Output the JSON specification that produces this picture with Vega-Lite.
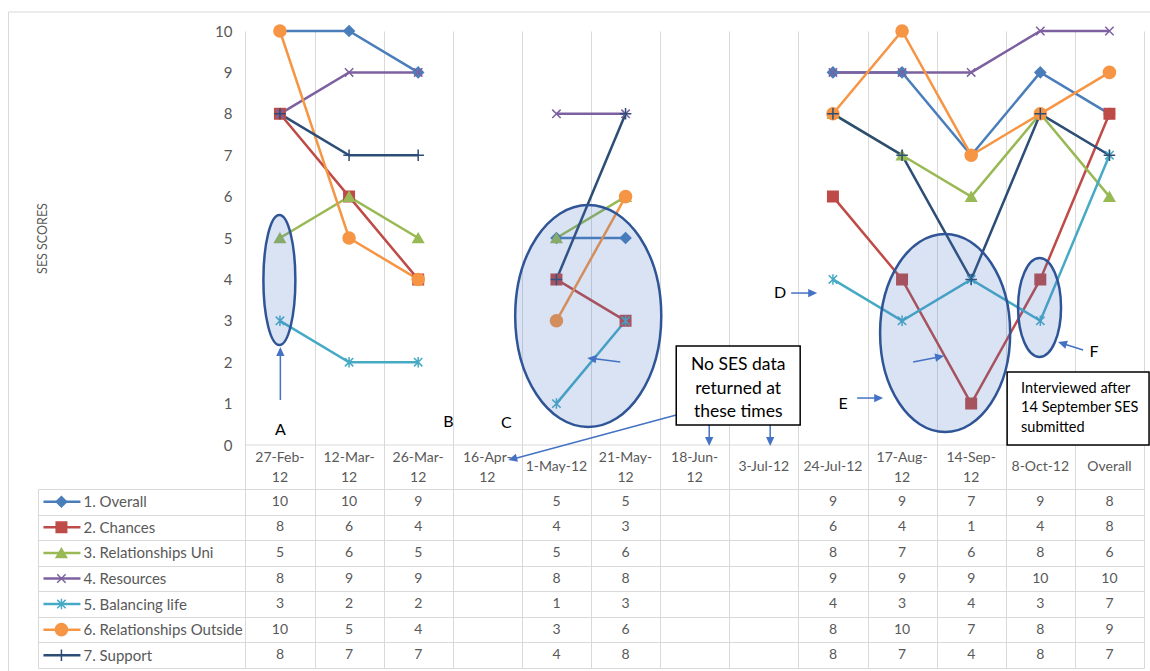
{
  "$schema": "https://vega.github.io/schema/vega-lite/v6.json",
  "width": 1106,
  "height": 637,
  "autosize": {"type": "none"},
  "padding": {"left": 38, "top": 31, "right": 6, "bottom": 3},
  "background": "white",
  "config": {"font": "Lato", "view": {"stroke": null}},
  "data": {"values": [{"k": 0}]},
  "datasets": {
    "scores": [
      {"s": "1. Overall", "i": 0, "seg": 1, "v": 10}, {"s": "1. Overall", "i": 1, "seg": 1, "v": 10}, {"s": "1. Overall", "i": 2, "seg": 1, "v": 9},
      {"s": "1. Overall", "i": 4, "seg": 2, "v": 5}, {"s": "1. Overall", "i": 5, "seg": 2, "v": 5},
      {"s": "1. Overall", "i": 8, "seg": 3, "v": 9}, {"s": "1. Overall", "i": 9, "seg": 3, "v": 9}, {"s": "1. Overall", "i": 10, "seg": 3, "v": 7}, {"s": "1. Overall", "i": 11, "seg": 3, "v": 9}, {"s": "1. Overall", "i": 12, "seg": 3, "v": 8},
      {"s": "2. Chances", "i": 0, "seg": 1, "v": 8}, {"s": "2. Chances", "i": 1, "seg": 1, "v": 6}, {"s": "2. Chances", "i": 2, "seg": 1, "v": 4},
      {"s": "2. Chances", "i": 4, "seg": 2, "v": 4}, {"s": "2. Chances", "i": 5, "seg": 2, "v": 3},
      {"s": "2. Chances", "i": 8, "seg": 3, "v": 6}, {"s": "2. Chances", "i": 9, "seg": 3, "v": 4}, {"s": "2. Chances", "i": 10, "seg": 3, "v": 1}, {"s": "2. Chances", "i": 11, "seg": 3, "v": 4}, {"s": "2. Chances", "i": 12, "seg": 3, "v": 8},
      {"s": "3. Relationships Uni", "i": 0, "seg": 1, "v": 5}, {"s": "3. Relationships Uni", "i": 1, "seg": 1, "v": 6}, {"s": "3. Relationships Uni", "i": 2, "seg": 1, "v": 5},
      {"s": "3. Relationships Uni", "i": 4, "seg": 2, "v": 5}, {"s": "3. Relationships Uni", "i": 5, "seg": 2, "v": 6},
      {"s": "3. Relationships Uni", "i": 8, "seg": 3, "v": 8}, {"s": "3. Relationships Uni", "i": 9, "seg": 3, "v": 7}, {"s": "3. Relationships Uni", "i": 10, "seg": 3, "v": 6}, {"s": "3. Relationships Uni", "i": 11, "seg": 3, "v": 8}, {"s": "3. Relationships Uni", "i": 12, "seg": 3, "v": 6},
      {"s": "4. Resources", "i": 0, "seg": 1, "v": 8}, {"s": "4. Resources", "i": 1, "seg": 1, "v": 9}, {"s": "4. Resources", "i": 2, "seg": 1, "v": 9},
      {"s": "4. Resources", "i": 4, "seg": 2, "v": 8}, {"s": "4. Resources", "i": 5, "seg": 2, "v": 8},
      {"s": "4. Resources", "i": 8, "seg": 3, "v": 9}, {"s": "4. Resources", "i": 9, "seg": 3, "v": 9}, {"s": "4. Resources", "i": 10, "seg": 3, "v": 9}, {"s": "4. Resources", "i": 11, "seg": 3, "v": 10}, {"s": "4. Resources", "i": 12, "seg": 3, "v": 10},
      {"s": "5. Balancing life", "i": 0, "seg": 1, "v": 3}, {"s": "5. Balancing life", "i": 1, "seg": 1, "v": 2}, {"s": "5. Balancing life", "i": 2, "seg": 1, "v": 2},
      {"s": "5. Balancing life", "i": 4, "seg": 2, "v": 1}, {"s": "5. Balancing life", "i": 5, "seg": 2, "v": 3},
      {"s": "5. Balancing life", "i": 8, "seg": 3, "v": 4}, {"s": "5. Balancing life", "i": 9, "seg": 3, "v": 3}, {"s": "5. Balancing life", "i": 10, "seg": 3, "v": 4}, {"s": "5. Balancing life", "i": 11, "seg": 3, "v": 3}, {"s": "5. Balancing life", "i": 12, "seg": 3, "v": 7},
      {"s": "6. Relationships Outside", "i": 0, "seg": 1, "v": 10}, {"s": "6. Relationships Outside", "i": 1, "seg": 1, "v": 5}, {"s": "6. Relationships Outside", "i": 2, "seg": 1, "v": 4},
      {"s": "6. Relationships Outside", "i": 4, "seg": 2, "v": 3}, {"s": "6. Relationships Outside", "i": 5, "seg": 2, "v": 6},
      {"s": "6. Relationships Outside", "i": 8, "seg": 3, "v": 8}, {"s": "6. Relationships Outside", "i": 9, "seg": 3, "v": 10}, {"s": "6. Relationships Outside", "i": 10, "seg": 3, "v": 7}, {"s": "6. Relationships Outside", "i": 11, "seg": 3, "v": 8}, {"s": "6. Relationships Outside", "i": 12, "seg": 3, "v": 9},
      {"s": "7. Support", "i": 0, "seg": 1, "v": 8}, {"s": "7. Support", "i": 1, "seg": 1, "v": 7}, {"s": "7. Support", "i": 2, "seg": 1, "v": 7},
      {"s": "7. Support", "i": 4, "seg": 2, "v": 4}, {"s": "7. Support", "i": 5, "seg": 2, "v": 8},
      {"s": "7. Support", "i": 8, "seg": 3, "v": 8}, {"s": "7. Support", "i": 9, "seg": 3, "v": 7}, {"s": "7. Support", "i": 10, "seg": 3, "v": 4}, {"s": "7. Support", "i": 11, "seg": 3, "v": 8}, {"s": "7. Support", "i": 12, "seg": 3, "v": 7}
    ],
    "dates2": [
      {"i": 0, "lab": "27-Feb-\n12"}, {"i": 1, "lab": "12-Mar-\n12"}, {"i": 2, "lab": "26-Mar-\n12"}, {"i": 3, "lab": "16-Apr-\n12"},
      {"i": 5, "lab": "21-May-\n12"}, {"i": 6, "lab": "18-Jun-\n12"},
      {"i": 9, "lab": "17-Aug-\n12"}, {"i": 10, "lab": "14-Sep-\n12"}
    ],
    "dates1": [
      {"i": 4, "lab": "1-May-12"}, {"i": 7, "lab": "3-Jul-12"}, {"i": 8, "lab": "24-Jul-12"}, {"i": 11, "lab": "8-Oct-12"}, {"i": 12, "lab": "Overall"}
    ],
    "series": [
      {"s": "1. Overall"}, {"s": "2. Chances"}, {"s": "3. Relationships Uni"}, {"s": "4. Resources"},
      {"s": "5. Balancing life"}, {"s": "6. Relationships Outside"}, {"s": "7. Support"}
    ]
  },
  "layer": [
    {
      "layer": [
        {
          "mark": {"type": "rect", "filled": false, "stroke": "#d9d9d9", "strokeWidth": 1},
          "encoding": {"x": {"datum": -3.927}, "x2": {"datum": 13.5}, "y": {"datum": 10.459}, "y2": {"datum": -6}}
        },
        {
          "mark": {"type": "rule", "stroke": "#d9d9d9", "strokeWidth": 1},
          "encoding": {"x": {"datum": -0.5}, "x2": {"datum": 12.5}, "y": {"datum": 0}}
        },
        {
          "data": {"name": "scores"},
          "mark": {"type": "line", "strokeWidth": 2.5},
          "encoding": {
            "x": {"field": "i", "type": "quantitative", "scale": {"domain": [-3.5, 12.5], "nice": false, "zero": false},
                  "axis": {"values": [-0.5, 0.5, 1.5, 2.5, 3.5, 4.5, 5.5, 6.5, 7.5, 8.5, 9.5, 10.5, 11.5, 12.5], "grid": true, "gridColor": "#d9d9d9", "gridWidth": 1, "labels": false, "ticks": false, "domain": false, "title": null}},
            "y": {"field": "v", "type": "quantitative", "scale": {"domain": [-5.386, 10], "nice": false, "zero": false},
                  "axis": {"values": [0, 1, 2, 3, 4, 5, 6, 7, 8, 9, 10], "format": "d", "offset": -207, "grid": false, "domain": false, "ticks": false, "tickSize": 0, "labelPadding": 13, "labelFontSize": 15, "labelColor": "#595959",
                           "title": "SES SCORES", "titleFontSize": 12.5, "titleFontWeight": "normal", "titleColor": "#595959", "titleX": -203, "titleY": 207, "titleAngle": -90, "titleAlign": "center", "titleBaseline": "middle"}},
            "color": {"field": "s", "type": "nominal", "legend": null,
                      "scale": {"domain": ["1. Overall", "2. Chances", "3. Relationships Uni", "4. Resources", "5. Balancing life", "6. Relationships Outside", "7. Support"],
                                "range": ["#4A7EBB", "#BE4B48", "#98B954", "#7D60A0", "#46AAC5", "#F69544", "#2C4D75"]}},
            "detail": {"field": "seg"}
          }
        },
        {
          "data": {"name": "scores"},
          "mark": {"type": "point", "filled": true, "opacity": 1, "size": 110, "strokeWidth": 1.5},
          "encoding": {
            "x": {"field": "i", "type": "quantitative"},
            "y": {"field": "v", "type": "quantitative"},
            "color": {"field": "s", "type": "nominal", "legend": null},
            "stroke": {"field": "s", "type": "nominal", "legend": null,
                       "scale": {"domain": ["1. Overall", "2. Chances", "3. Relationships Uni", "4. Resources", "5. Balancing life", "6. Relationships Outside", "7. Support"],
                                 "range": ["#4A7EBB", "#BE4B48", "#98B954", "#7D60A0", "#46AAC5", "#F69544", "#2C4D75"]}},
            "shape": {"field": "s", "type": "nominal", "legend": null,
                      "scale": {"domain": ["1. Overall", "2. Chances", "3. Relationships Uni", "4. Resources", "5. Balancing life", "6. Relationships Outside", "7. Support"],
                                "range": ["diamond", "square", "triangle-up", "M-0.8 -0.8L0.8 0.8M-0.8 0.8L0.8 -0.8", "M-0.8 -0.8L0.8 0.8M-0.8 0.8L0.8 -0.8M0 -1L0 1", "M-1.15 0A1.15 1.15 0 1 0 1.15 0A1.15 1.15 0 1 0 -1.15 0Z", "M-1.1 0L1.1 0M0 -1.1L0 1.1"]}}
          }
        },
        {
          "data": {"name": "dates2"},
          "mark": {"type": "text", "fontSize": 14, "color": "#595959", "lineBreak": "\n", "lineHeight": 19.5, "baseline": "middle", "align": "center"},
          "encoding": {
            "x": {"field": "i", "type": "quantitative"},
            "y": {"datum": -0.314},
            "text": {"field": "lab"}
          }
        },
        {
          "data": {"name": "dates1"},
          "mark": {"type": "text", "fontSize": 14, "color": "#595959", "baseline": "middle", "align": "center"},
          "encoding": {
            "x": {"field": "i", "type": "quantitative"},
            "y": {"datum": -0.53},
            "text": {"field": "lab"}
          }
        },
        {
          "mark": {"type": "point", "shape": "M-0.246 0A0.246 1 0 1 0 0.246 0A0.246 1 0 1 0 -0.246 0Z", "size": 16900, "filled": true, "fill": "#4472C4", "fillOpacity": 0.2, "stroke": "#2F5597", "strokeWidth": 2.5, "opacity": 1},
          "encoding": {"x": {"datum": -0.008}, "y": {"datum": 3.986}}
        },
        {
          "mark": {"type": "point", "shape": "M-0.658 0A0.658 1 0 1 0 0.658 0A0.658 1 0 1 0 -0.658 0Z", "size": 49284, "filled": true, "fill": "#4472C4", "fillOpacity": 0.2, "stroke": "#2F5597", "strokeWidth": 2.5, "opacity": 1},
          "encoding": {"x": {"datum": 4.46}, "y": {"datum": 3.116}}
        },
        {
          "mark": {"type": "point", "shape": "M-0.657 0A0.657 1 0 1 0 0.657 0A0.657 1 0 1 0 -0.657 0Z", "size": 39204, "filled": true, "fill": "#4472C4", "fillOpacity": 0.2, "stroke": "#2F5597", "strokeWidth": 2.5, "opacity": 1},
          "encoding": {"x": {"datum": 9.623}, "y": {"datum": 2.705}}
        },
        {
          "mark": {"type": "point", "shape": "M-0.434 0A0.434 1 0 1 0 0.434 0A0.434 1 0 1 0 -0.434 0Z", "size": 9801, "filled": true, "fill": "#4472C4", "fillOpacity": 0.2, "stroke": "#2F5597", "strokeWidth": 2.5, "opacity": 1},
          "encoding": {"x": {"datum": 10.989}, "y": {"datum": 3.321}}
        },
        {"mark": {"type": "rule", "stroke": "#4472C4", "strokeWidth": 1.5},
         "encoding": {"x": {"datum": 0.006}, "y": {"datum": 1.087}, "x2": {"datum": 0.006}, "y2": {"datum": 2.3}}},
        {"mark": {"type": "point", "shape": "M0 0L0.6 1.3L-0.6 1.3Z", "size": 190, "filled": true, "fill": "#4472C4", "strokeWidth": 0, "opacity": 1, "angle": 0},
         "encoding": {"x": {"datum": 0.006}, "y": {"datum": 2.367}}},
        {"mark": {"type": "rule", "stroke": "#4472C4", "strokeWidth": 1.5},
         "encoding": {"x": {"datum": 4.923}, "y": {"datum": 2.005}, "x2": {"datum": 4.5}, "y2": {"datum": 2.094}}},
        {"mark": {"type": "point", "shape": "M0 0L0.6 1.3L-0.6 1.3Z", "size": 190, "filled": true, "fill": "#4472C4", "strokeWidth": 0, "opacity": 1, "angle": -83},
         "encoding": {"x": {"datum": 4.446}, "y": {"datum": 2.101}}},
        {"mark": {"type": "rule", "stroke": "#4472C4", "strokeWidth": 1.5},
         "encoding": {"x": {"datum": 5.733}, "y": {"datum": 0.725}, "x2": {"datum": 3.36}, "y2": {"datum": -0.345}}},
        {"mark": {"type": "point", "shape": "M0 0L0.6 1.3L-0.6 1.3Z", "size": 190, "filled": true, "fill": "#4472C4", "strokeWidth": 0, "opacity": 1, "angle": -105},
         "encoding": {"x": {"datum": 3.303}, "y": {"datum": -0.362}}},
        {"mark": {"type": "rule", "stroke": "#4472C4", "strokeWidth": 1.5},
         "encoding": {"x": {"datum": 6.21}, "y": {"datum": 0.483}, "x2": {"datum": 6.21}, "y2": {"datum": 0.05}}},
        {"mark": {"type": "point", "shape": "M0 0L0.6 1.3L-0.6 1.3Z", "size": 190, "filled": true, "fill": "#4472C4", "strokeWidth": 0, "opacity": 1, "angle": 180},
         "encoding": {"x": {"datum": 6.21}, "y": {"datum": -0.024}}},
        {"mark": {"type": "rule", "stroke": "#4472C4", "strokeWidth": 1.5},
         "encoding": {"x": {"datum": 7.092}, "y": {"datum": 0.483}, "x2": {"datum": 7.092}, "y2": {"datum": 0.05}}},
        {"mark": {"type": "point", "shape": "M0 0L0.6 1.3L-0.6 1.3Z", "size": 190, "filled": true, "fill": "#4472C4", "strokeWidth": 0, "opacity": 1, "angle": 180},
         "encoding": {"x": {"datum": 7.092}, "y": {"datum": -0.024}}},
        {"mark": {"type": "rule", "stroke": "#4472C4", "strokeWidth": 1.5},
         "encoding": {"x": {"datum": 7.396}, "y": {"datum": 3.671}, "x2": {"datum": 7.7}, "y2": {"datum": 3.671}}},
        {"mark": {"type": "point", "shape": "M0 0L0.6 1.3L-0.6 1.3Z", "size": 190, "filled": true, "fill": "#4472C4", "strokeWidth": 0, "opacity": 1, "angle": 90},
         "encoding": {"x": {"datum": 7.772}, "y": {"datum": 3.671}}},
        {"mark": {"type": "rule", "stroke": "#4472C4", "strokeWidth": 1.5},
         "encoding": {"x": {"datum": 8.35}, "y": {"datum": 1.135}, "x2": {"datum": 8.65}, "y2": {"datum": 1.135}}},
        {"mark": {"type": "point", "shape": "M0 0L0.6 1.3L-0.6 1.3Z", "size": 190, "filled": true, "fill": "#4472C4", "strokeWidth": 0, "opacity": 1, "angle": 90},
         "encoding": {"x": {"datum": 8.726}, "y": {"datum": 1.135}}},
        {"mark": {"type": "rule", "stroke": "#4472C4", "strokeWidth": 1.5},
         "encoding": {"x": {"datum": 9.16}, "y": {"datum": 2.005}, "x2": {"datum": 9.55}, "y2": {"datum": 2.13}}},
        {"mark": {"type": "point", "shape": "M0 0L0.6 1.3L-0.6 1.3Z", "size": 190, "filled": true, "fill": "#4472C4", "strokeWidth": 0, "opacity": 1, "angle": 80},
         "encoding": {"x": {"datum": 9.608}, "y": {"datum": 2.15}}},
        {"mark": {"type": "rule", "stroke": "#4472C4", "strokeWidth": 1.5},
         "encoding": {"x": {"datum": 11.619}, "y": {"datum": 2.295}, "x2": {"datum": 11.31}, "y2": {"datum": 2.46}}},
        {"mark": {"type": "point", "shape": "M0 0L0.6 1.3L-0.6 1.3Z", "size": 190, "filled": true, "fill": "#4472C4", "strokeWidth": 0, "opacity": 1, "angle": -72},
         "encoding": {"x": {"datum": 11.257}, "y": {"datum": 2.488}}},
        {"mark": {"type": "rect", "fill": "white", "stroke": "black", "strokeWidth": 1.5},
         "encoding": {"x": {"datum": 5.733}, "x2": {"datum": 7.526}, "y": {"datum": 2.391}, "y2": {"datum": 0.483}}},
        {"mark": {"type": "text", "text": ["No SES data", "returned at", "these times"], "fontSize": 17.5, "lineHeight": 23.5, "color": "black", "align": "center", "baseline": "middle"},
         "encoding": {"x": {"datum": 6.629}, "y": {"datum": 1.932}}},
        {"mark": {"type": "rect", "fill": "white", "stroke": "black", "strokeWidth": 1.5},
         "encoding": {"x": {"datum": 10.52}, "x2": {"datum": 12.573}, "y": {"datum": 1.763}, "y2": {"datum": 0}}},
        {"mark": {"type": "text", "text": ["Interviewed after", "14 September SES", "submitted"], "fontSize": 14.5, "lineHeight": 19.5, "color": "black", "align": "left", "baseline": "middle"},
         "encoding": {"x": {"datum": 10.722}, "y": {"datum": 1.353}}},
        {"mark": {"type": "text", "text": "A", "fontSize": 16, "color": "black", "align": "center", "baseline": "middle"},
         "encoding": {"x": {"datum": 0.006}, "y": {"datum": 0.362}}},
        {"mark": {"type": "text", "text": "B", "fontSize": 16, "color": "black", "align": "center", "baseline": "middle"},
         "encoding": {"x": {"datum": 2.436}, "y": {"datum": 0.556}}},
        {"mark": {"type": "text", "text": "C", "fontSize": 16, "color": "black", "align": "center", "baseline": "middle"},
         "encoding": {"x": {"datum": 3.274}, "y": {"datum": 0.531}}},
        {"mark": {"type": "text", "text": "D", "fontSize": 16, "color": "black", "align": "center", "baseline": "middle"},
         "encoding": {"x": {"datum": 7.237}, "y": {"datum": 3.671}}},
        {"mark": {"type": "text", "text": "E", "fontSize": 16, "color": "black", "align": "center", "baseline": "middle"},
         "encoding": {"x": {"datum": 8.148}, "y": {"datum": 0.99}}},
        {"mark": {"type": "text", "text": "F", "fontSize": 16, "color": "black", "align": "center", "baseline": "middle"},
         "encoding": {"x": {"datum": 11.778}, "y": {"datum": 2.246}}}
      ]
    },
    {
      "layer": [
        {
          "data": {"name": "scores"},
          "mark": {"type": "text", "fontSize": 14, "color": "#595959", "baseline": "middle", "align": "center"},
          "encoding": {
            "x": {"field": "i", "type": "quantitative"},
            "y": {"field": "s", "type": "nominal", "bandPosition": 0.5,
                  "scale": {"type": "band", "domain": ["1. Overall", "2. Chances", "3. Relationships Uni", "4. Resources", "5. Balancing life", "6. Relationships Outside", "7. Support"], "range": [458, 637], "paddingInner": 0, "paddingOuter": 0},
                  "axis": {"orient": "left", "offset": 0, "title": null, "domain": true, "domainColor": "#d9d9d9", "domainWidth": 1, "ticks": false, "tickSize": 0, "grid": true, "gridColor": "#d9d9d9", "gridWidth": 1, "tickBand": "extent",
                           "labelAlign": "left", "labelPadding": -45, "labelFontSize": 15, "labelColor": "#595959", "labelBaseline": "middle", "labelLimit": 300}},
            "text": {"field": "v"}
          }
        },
        {
          "data": {"name": "series"},
          "mark": {"type": "rule", "strokeWidth": 2.5},
          "encoding": {
            "x": {"datum": -3.421},
            "x2": {"datum": -2.886},
            "y": {"field": "s", "type": "nominal", "bandPosition": 0.5},
            "color": {"field": "s", "type": "nominal", "legend": null}
          }
        },
        {
          "data": {"name": "series"},
          "mark": {"type": "point", "filled": true, "opacity": 1, "size": 110, "strokeWidth": 1.5},
          "encoding": {
            "x": {"datum": -3.161},
            "y": {"field": "s", "type": "nominal", "bandPosition": 0.5},
            "color": {"field": "s", "type": "nominal", "legend": null},
            "stroke": {"field": "s", "type": "nominal", "legend": null},
            "shape": {"field": "s", "type": "nominal", "legend": null}
          }
        }
      ]
    }
  ],
  "resolve": {"scale": {"y": "independent"}}
}
